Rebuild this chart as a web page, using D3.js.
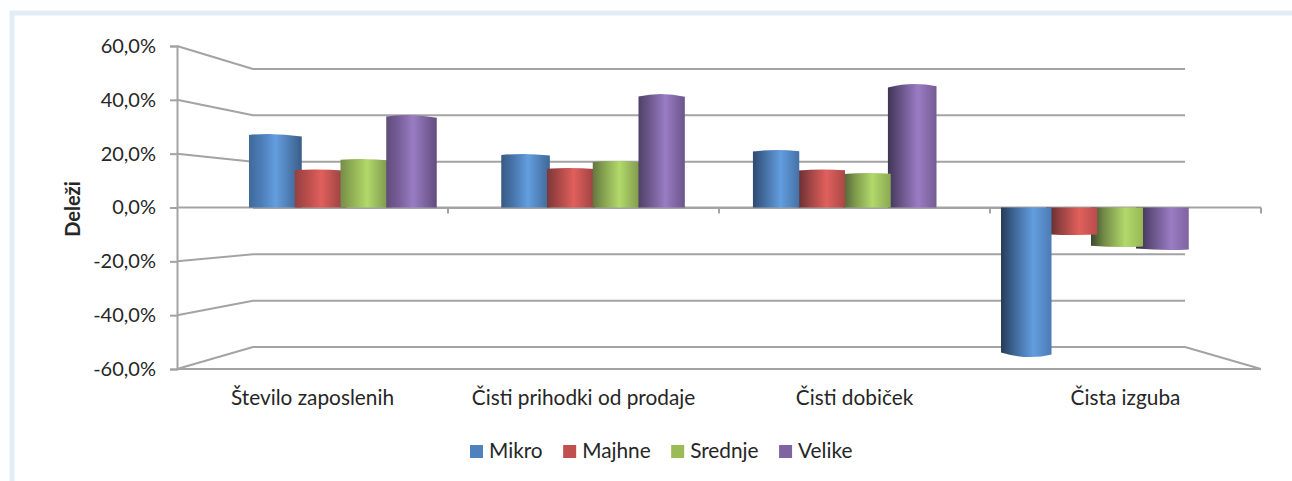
<!DOCTYPE html>
<html><head><meta charset="utf-8">
<script src="https://d3js.org/d3.v7.min.js"></script>
<style>html,body{margin:0;padding:0;background:#fdfeff}svg{display:block}text{font-family:Lato,"Open Sans",sans-serif;fill:#262626}</style>
</head><body><svg id="c" width="1292" height="481"></svg>
<script>
const categories = ["Število zaposlenih","Čisti prihodki od prodaje","Čisti dobiček","Čista izguba"];
const seriesNames = ["Mikro","Majhne","Srednje","Velike"];
const seriesColors = ["#4f81bd","#c0504d","#9bbb59","#8064a2"];
const highlightColors = ["#639edf","#e0605c","#b2d96a","#9a7cc4"];
const mikro = [29.6,21.6,23.2,-59.6];
const majhne = [15.4,16.0,15.4,-10.8];
const srednje = [19.6,18.8,14.0,-15.6];
const velike = [37.2,45.6,49.6,-16.8];
const seriesValues = [mikro,majhne,srednje,velike];
const axisTicks = [-60,-40,-20,0,20,40,60];

const svg = d3.select("#c");
const defs = svg.append("defs");
const axisColor = "#a3a3a3";

// frame
svg.append("rect").attr("x",12).attr("y",13).attr("width",1300).attr("height",500)
  .attr("fill","#fff").attr("stroke","#e4edf6").attr("stroke-width",5);

// scales: front plane, back wall, bar plane
const yFront = d3.scaleLinear().domain([-60,60]).range([369,46]);
const yBack = d3.scaleLinear().domain([-60,60]).range([347,69]);
const yBar = d3.scaleLinear().domain([-60,60]).range([358,58]);
const xFront = d3.scaleBand().domain(categories).range([177,1261]);
const xBack = d3.scaleBand().domain(categories).range([253,1185]);
const xBar = d3.scaleBand().domain(categories).range([215,1224]);
const xSeries = d3.scaleBand().domain(seriesNames).range([34,217]);
const x0 = xFront.range()[0], x1 = xFront.range()[1];
const bx0 = xBack.range()[0], bx1 = xBack.range()[1];
const vanishX = (x0+x1)/2, zeroY = yFront(0);

const lines = svg.append("g").attr("fill","none").attr("stroke",axisColor).attr("stroke-width",2);
// back wall gridlines and left-wall connectors
axisTicks.forEach(t=>{
  lines.append("line").attr("x1",bx0).attr("x2",bx1).attr("y1",yBack(t)).attr("y2",yBack(t));
  if(t!==0) lines.append("line").attr("x1",x0).attr("x2",bx0).attr("y1",yFront(t)).attr("y2",yBack(t));
});
// floor
lines.append("line").attr("x1",x0).attr("x2",x1).attr("y1",yFront(-60)).attr("y2",yFront(-60));
lines.append("line").attr("x1",bx1).attr("x2",x1).attr("y1",yBack(-60)).attr("y2",yFront(-60));
// zero line with category ticks
lines.append("line").attr("x1",x0).attr("x2",x1).attr("y1",zeroY).attr("y2",zeroY);
categories.forEach((c,i)=>{
  const tx = xFront(c)+xFront.bandwidth();
  lines.append("line").attr("x1",tx).attr("x2",tx).attr("y1",zeroY).attr("y2",zeroY+6);
});

// value axis
const yAxis = svg.append("g").attr("transform",`translate(${x0},0)`)
  .call(d3.axisLeft(yFront).tickValues(axisTicks).tickSize(7).tickPadding(14)
    .tickFormat(d=>d.toFixed(1).replace(".",",")+"%"));
yAxis.selectAll("path,line").attr("stroke",axisColor).attr("stroke-width",2);
yAxis.selectAll("text").attr("font-size",20).attr("font-family","Lato").attr("fill","#262626");

// category labels
const catAxis = svg.append("g").attr("transform",`translate(0,${yFront(-60)})`)
  .call(d3.axisBottom(xFront).tickSize(0).tickPadding(21));
catAxis.select("path").remove();
catAxis.selectAll("text").attr("font-size",20.8).attr("font-family","Lato").attr("fill","#262626");

// bars
const depth = 0.0165;
const bars = [];
seriesNames.forEach((s,si)=>categories.forEach((c,ci)=>{
  const a = xBar(c)+xSeries(s), b = a+xSeries.bandwidth();
  bars.push({s,si,c,ci,a,b,v:seriesValues[si][ci],mid:(a+b)/2});
}));
bars.sort((p,q)=>Math.abs(q.mid-vanishX)-Math.abs(p.mid-vanishX));

const darken = (col,f)=> d3.interpolateRgb("#0b0f18",col)(f);
const gBars = svg.append("g");
bars.forEach((d,i)=>{
  const tilt = (d.mid-vanishX)/470; // -1 far left, +1 far right
  const leftEdge = d.mid<vanishX ? d.a : d.a-(d.a-vanishX)*depth;
  const rightEdge = d.mid<vanishX ? d.b+(vanishX-d.b)*depth : d.b;
  const ye = yBar(d.v), h = ye-zeroY;
  const yOuter = zeroY+h*(0.9765+0.0105*Math.abs(tilt));
  const yInner = zeroY+h*(0.9765-0.0105*Math.abs(tilt));
  const yL = tilt<0?yOuter:yInner, yR = tilt<0?yInner:yOuter;
  const cx = (leftEdge+rightEdge)/2+tilt*3;
  const path = d3.path();
  path.moveTo(leftEdge,zeroY);
  path.lineTo(leftEdge,yL);
  path.quadraticCurveTo(cx,zeroY+h*1.024,rightEdge,yR);
  path.lineTo(rightEdge,zeroY);
  path.closePath();
  const id="g"+i, col=seriesColors[d.si], hi=highlightColors[d.si];
  const t01=(tilt+1)/2;
  const grad=defs.append("linearGradient").attr("id",id);
  const stops=[
    [0,darken(col,0.8-0.5*t01)],
    [0.25,darken(col,0.98-0.28*t01)],
    [0.5+0.17*t01,hi],
    [1,darken(col,0.68+0.32*t01)]];
  stops.forEach(([o,c])=>grad.append("stop").attr("offset",o).attr("stop-color",c));
  gBars.append("path").attr("d",path.toString()).attr("fill",`url(#${id})`);
});

// axis title
svg.append("text").attr("transform","translate(80,209) rotate(-90)").attr("text-anchor","middle")
  .attr("font-size",20).attr("font-weight",700).attr("fill","#000").text("Deleži");

// legend
const legend = svg.append("g");
let lx = 470;
seriesNames.forEach((s,i)=>{
  legend.append("rect").attr("x",lx).attr("y",445).attr("width",13).attr("height",13).attr("fill",seriesColors[i]);
  const t = legend.append("text").attr("x",lx+19).attr("y",458).attr("font-size",20.8).text(s);
  lx += 19 + t.node().getComputedTextLength() + 20.5;
});
</script></body></html>
